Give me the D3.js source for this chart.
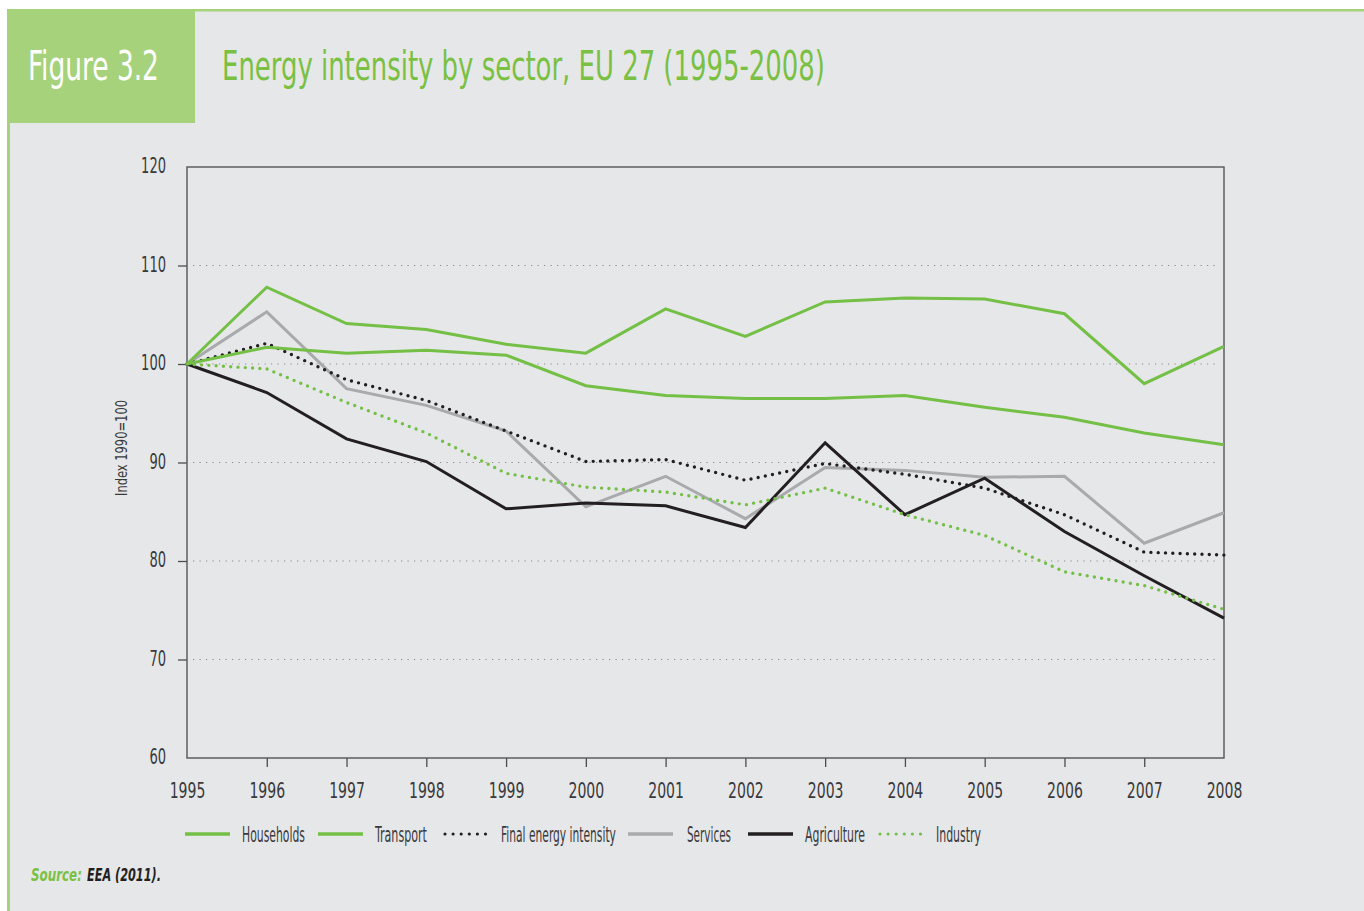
<!DOCTYPE html>
<html>
<head>
<meta charset="utf-8">
<script src="https://cdn.jsdelivr.net/npm/d3@7/dist/d3.min.js"></script>
<style>
  html, body { margin: 0; padding: 0; background: #ffffff; }
  svg { display: block; }
</style>
</head>
<body>
<svg id="chart" width="1364" height="911"></svg>
<script>
// ---------------- DATA ----------------
const years = [1995, 1996, 1997, 1998, 1999, 2000, 2001, 2002, 2003, 2004, 2005, 2006, 2007, 2008];
const households  = [100, 107.8, 104.1, 103.5, 102.0, 101.1, 105.6, 102.8, 106.3, 106.7, 106.6, 105.1, 98.0, 101.8];
const transport   = [100, 101.7, 101.1, 101.4, 100.9, 97.8, 96.8, 96.5, 96.5, 96.8, 95.6, 94.6, 93.0, 91.8];
const finalEnergy = [100, 102.1, 98.4, 96.3, 93.2, 90.1, 90.3, 88.2, 89.9, 88.8, 87.4, 84.7, 80.9, 80.6];
const services    = [100, 105.3, 97.5, 95.8, 93.2, 85.5, 88.6, 84.3, 89.5, 89.2, 88.5, 88.6, 81.8, 84.9];
const agriculture = [100, 97.1, 92.4, 90.1, 85.3, 85.9, 85.6, 83.4, 92.0, 84.7, 88.4, 83.0, 78.5, 74.2];
const industry    = [100, 99.5, 96.1, 93.0, 88.9, 87.5, 87.0, 85.7, 87.4, 84.7, 82.6, 78.9, 77.5, 75.1];
const yTicks = [60, 70, 80, 90, 100, 110, 120];
const yGridTicks = [70, 80, 90, 100, 110];
const seriesNames = ["Households", "Transport", "Final energy intensity", "Services", "Agriculture", "Industry"];
const figureLabel = "Figure 3.2";
const titleText = "Energy intensity by sector, EU 27 (1995-2008)";
const yTitle = "Index 1990=100";
const sourceLabel = "Source:";
const sourceText = "EEA (2011).";

// ---------------- STYLE ----------------
const GREEN_LINE = "#74bf45";
const GREEN_TITLE = "#7ac143";
const GREEN_BOX = "#a5d27a";
const BG = "#e6e7e8";
const GREY_LINE = "#a9aaac";
const BLACK_LINE = "#231f20";
const COND = "'Liberation Sans Narrow', 'Arial Narrow', 'DejaVu Sans Condensed', sans-serif";
const TXT = "#3a3a3c";

const series = [
  { name: seriesNames[0], values: households,  color: GREEN_LINE, dotted: false },
  { name: seriesNames[1], values: transport,   color: GREEN_LINE, dotted: false },
  { name: seriesNames[2], values: finalEnergy, color: BLACK_LINE, dotted: true },
  { name: seriesNames[3], values: services,    color: GREY_LINE,  dotted: false },
  { name: seriesNames[4], values: agriculture, color: BLACK_LINE, dotted: false },
  { name: seriesNames[5], values: industry,    color: GREEN_LINE, dotted: true }
];

const svg = d3.select("#chart");

// background / frame
svg.append("rect").attr("x", 7).attr("y", 9).attr("width", 1364 - 7).attr("height", 911 - 9).attr("fill", BG);
svg.append("rect").attr("x", 7).attr("y", 9).attr("width", 1364 - 7).attr("height", 2.5).attr("fill", GREEN_BOX);
svg.append("rect").attr("x", 7).attr("y", 9).attr("width", 3).attr("height", 911 - 9).attr("fill", GREEN_BOX);
svg.append("rect").attr("x", 7).attr("y", 9).attr("width", 188).attr("height", 114).attr("fill", GREEN_BOX);

// helper: place a text at (x,y) and squeeze it horizontally to width w
function placeScaled(sel, px, py, w) {
  const len = sel.node().getComputedTextLength();
  const sx = len > 0 ? w / len : 1;
  sel.attr("x", 0).attr("y", 0)
     .attr("transform", `translate(${px},${py}) scale(${sx},1)`);
  return sel;
}

placeScaled(svg.append("text")
  .attr("font-family", COND).attr("font-size", 40).attr("fill", "#ffffff")
  .text(figureLabel), 28, 80, 131);

placeScaled(svg.append("text")
  .attr("font-family", COND).attr("font-size", 40).attr("fill", GREEN_TITLE)
  .text(titleText), 222, 80, 603);

// ---------------- SCALES ----------------
const x = d3.scaleLinear().domain([1995, 2008]).range([187, 1224]);
const y = d3.scaleLinear().domain([60, 120]).range([758, 167]);

// gridlines
svg.append("g").selectAll("line").data(yGridTicks).join("line")
  .attr("x1", x(1995) + 6).attr("x2", x(2008) - 4)
  .attr("y1", d => y(d)).attr("y2", d => y(d))
  .attr("stroke", "#8a8a8c").attr("stroke-width", 1.1)
  .attr("stroke-dasharray", "1.2,5.3");

// Y axis: tick marks
const yTickAxis = svg.append("g").attr("transform", `translate(${x(1995)},0)`)
  .call(d3.axisLeft(y).tickValues(yGridTicks).tickSize(9).tickFormat(""));
yTickAxis.select(".domain").remove();
yTickAxis.selectAll("line").attr("stroke", "#4d4d4f").attr("stroke-width", 1.3);

// Y axis labels
const yLabAxis = svg.append("g").attr("transform", `translate(${x(1995)},0)`)
  .call(d3.axisLeft(y).tickValues(yTicks).tickSize(0).tickPadding(0));
yLabAxis.select(".domain").remove();
yLabAxis.selectAll("text")
  .attr("font-family", COND).attr("font-size", 22).attr("fill", TXT)
  .attr("x", 0).attr("dy", null).attr("y", 0)
  .attr("dominant-baseline", "central")
  .attr("transform", "translate(-21,-2) scale(0.66,1)");

// X axis ticks (interior years)
const xTickAxis = svg.append("g").attr("transform", `translate(0,${y(60)})`)
  .call(d3.axisBottom(x).tickValues(years.slice(1, -1)).tickSize(9).tickFormat(""));
xTickAxis.select(".domain").remove();
xTickAxis.selectAll("line").attr("stroke", "#4d4d4f").attr("stroke-width", 1.3);

// X axis labels
const xLabAxis = svg.append("g").attr("transform", `translate(0,${y(60)})`)
  .call(d3.axisBottom(x).tickValues(years).tickSize(0).tickFormat(d3.format("d")));
xLabAxis.select(".domain").remove();
xLabAxis.selectAll("text")
  .attr("font-family", COND).attr("font-size", 22).attr("fill", TXT)
  .attr("y", 0).attr("dy", null)
  .attr("transform", "translate(0,40) scale(0.71,1)");

// plot frame
svg.append("rect")
  .attr("x", x(1995)).attr("y", y(120))
  .attr("width", x(2008) - x(1995)).attr("height", y(60) - y(120))
  .attr("fill", "none").attr("stroke", "#555557").attr("stroke-width", 1.4);

// Y title
const yt = svg.append("text")
  .attr("text-anchor", "middle")
  .attr("font-family", COND).attr("font-size", 16).attr("fill", TXT)
  .text(yTitle);
{
  const len = yt.node().getComputedTextLength();
  yt.attr("transform", `translate(127,448) rotate(-90) scale(${96 / len},1)`);
}

// ---------------- LINES ----------------
const line = d3.line().x((d, i) => x(years[i])).y(d => y(d));

const drawOrder = [3, 4, 2, 5, 1, 0];
drawOrder.forEach(k => {
  const s = series[k];
  const p = svg.append("path").datum(s.values)
    .attr("d", line).attr("fill", "none").attr("stroke", s.color);
  if (s.dotted) {
    p.attr("stroke-width", 3.4).attr("stroke-linecap", "round")
     .attr("stroke-dasharray", "0,7.3");
  } else {
    p.attr("stroke-width", 3).attr("stroke-linejoin", "miter");
  }
});

// ---------------- LEGEND ----------------
const legendPos = [
  { lx: 185, tx: 242, tw: 63 },
  { lx: 318, tx: 375, tw: 52 },
  { lx: 444, tx: 501, tw: 115 },
  { lx: 628, tx: 687, tw: 44 },
  { lx: 748, tx: 805, tw: 60 },
  { lx: 879, tx: 936, tw: 45 }
];
const legendY = 834;
const lg = svg.append("g");
series.forEach((s, i) => {
  const pos = legendPos[i];
  const l = lg.append("line")
    .attr("x1", pos.lx).attr("x2", pos.lx + 45)
    .attr("y1", legendY).attr("y2", legendY)
    .attr("stroke", s.color);
  if (s.dotted) {
    l.attr("x1", pos.lx + 1).attr("x2", pos.lx + 42)
     .attr("stroke-width", 3.2).attr("stroke-linecap", "round").attr("stroke-dasharray", "0,8.1");
  } else {
    l.attr("stroke-width", 3.5);
  }
  placeScaled(lg.append("text")
    .attr("font-family", COND).attr("font-size", 22).attr("fill", TXT)
    .text(s.name), pos.tx, legendY + 8, pos.tw);
});

// ---------------- SOURCE ----------------
const srcFont = sel => sel.attr("font-family", COND).attr("font-size", 17)
  .attr("font-weight", "bold").attr("font-style", "italic");
placeScaled(svg.append("text").call(srcFont).attr("fill", GREEN_TITLE).text(sourceLabel), 31, 881, 51);
placeScaled(svg.append("text").call(srcFont).attr("fill", "#231f20").text(sourceText), 87, 881, 74);
</script>
</body>
</html>
